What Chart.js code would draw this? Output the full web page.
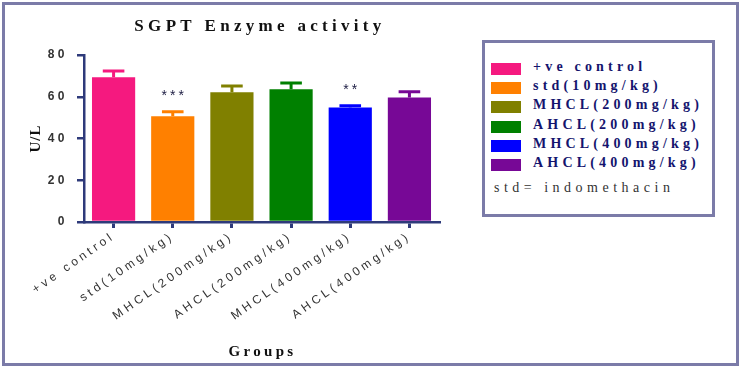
<!DOCTYPE html>
<html>
<head>
<meta charset="utf-8">
<script src="https://cdn.jsdelivr.net/npm/chart.js@4.4.1/dist/chart.umd.min.js"></script>
<style>
  body { margin: 0; background: #fff; }
  #wrap { position: relative; width: 744px; height: 368px; overflow: hidden; }
  #frame { position: absolute; left: 2px; top: 2px; width: 731px; height: 358px; border: 3px solid #7b7ba8; }
  #chart { position: absolute; left: 0; top: 0; }
  #legend {
    position: absolute; left: 482px; top: 40px; width: 233px; height: 177px;
    box-sizing: border-box; border: 3px solid #7b7ba8; background: #fff;
    font-family: "Liberation Serif", "DejaVu Serif", serif;
  }
  .row { position: absolute; left: 6px; height: 14px; }
  .sw { position: absolute; left: 0; top: 1px; width: 30px; height: 12px; }
  .txt { position: absolute; left: 42px; top: -3px; white-space: nowrap; font-weight: bold;
         font-size: 14px; letter-spacing: 4.2px; color: #14146e; }
  #note { position: absolute; left: 9px; top: 137px; white-space: nowrap; font-size: 14px;
          letter-spacing: 4.5px; color: #333; }
</style>
</head>
<body>
<div id="wrap">
  <div id="frame"></div>
  <canvas id="chart" width="744" height="368"></canvas>
  <div id="legend"></div>
</div>
<script>
const title = "SGPT Enzyme activity";
const yTitle = "U/L";
const xTitle = "Groups";
const groups = ["+ve control", "std(10mg/kg)", "MHCL(200mg/kg)", "AHCL(200mg/kg)", "MHCL(400mg/kg)", "AHCL(400mg/kg)"];
const legendNames = ["+ve control", "std(10mg/kg)", "MHCL(200mg/kg)", "AHCL(200mg/kg)", "MHCL(400mg/kg)", "AHCL(400mg/kg)"];
const means = [69.3, 50.6, 62.1, 63.6, 54.8, 59.7];
const errors = [3.0, 2.2, 3.0, 3.0, 0.9, 2.7];
const stars = ["", "***", "", "", "**", ""];
const colors = ["#f5197f", "#ff8000", "#808000", "#008000", "#0000ff", "#770896"];
const yTicks = [0, 20, 40, 60, 80];
const note = "std= indomethacin";

const axisColor = "#2e3a7a";

// html legend
const legend = document.getElementById("legend");
legendNames.forEach((name, i) => {
  const row = document.createElement("div");
  row.className = "row";
  row.style.top = (19 + i * 19.2) + "px";
  row.innerHTML = `<div class="sw" style="background:${colors[i]}"></div><div class="txt">${name}</div>`;
  legend.appendChild(row);
});
const n = document.createElement("div");
n.id = "note";
n.textContent = note;
legend.appendChild(n);

function spacing(chart) {
  chart.ctx.letterSpacing = "3.5px";
}

const extras = {
  id: "extras",
  beforeInit: spacing,
  beforeLayout: spacing,
  beforeDraw: spacing,
  afterDatasetsDraw(chart) {
    const ctx = chart.ctx;
    const y = chart.scales.y;
    const meta = chart.getDatasetMeta(0);
    ctx.save();
    meta.data.forEach((bar, i) => {
      const top = y.getPixelForValue(means[i]);
      const cap = y.getPixelForValue(means[i] + errors[i]);
      const half = bar.width / 4;
      ctx.strokeStyle = colors[i];
      ctx.lineWidth = 3;
      ctx.beginPath();
      ctx.moveTo(bar.x, top);
      ctx.lineTo(bar.x, cap);
      ctx.moveTo(bar.x - half, cap);
      ctx.lineTo(bar.x + half, cap);
      ctx.stroke();
      if (stars[i]) {
        ctx.fillStyle = "#1a1a40";
        ctx.font = "14px 'Liberation Sans', Arial, sans-serif";
        ctx.letterSpacing = "3px";
        ctx.textAlign = "center";
        ctx.textBaseline = "middle";
        ctx.fillText(stars[i], bar.x + 1.5, cap - 16);
      }
    });
    ctx.restore();
  },
  afterDraw(chart) {
    const ctx = chart.ctx;
    const a = chart.chartArea;
    ctx.save();
    ctx.fillStyle = "#111";
    ctx.textAlign = "center";
    ctx.textBaseline = "middle";
    ctx.font = "bold 17px 'Liberation Serif', serif";
    ctx.letterSpacing = "4.3px";
    ctx.fillText(title, 260, 27);
    ctx.font = "bold 15px 'Liberation Serif', serif";
    ctx.letterSpacing = "3.3px";
    ctx.fillText(xTitle, (a.left + a.right) / 2 + 1, 352);
    ctx.translate(36, (a.top + a.bottom) / 2);
    ctx.rotate(-Math.PI / 2);
    ctx.letterSpacing = "1px";
    ctx.fillText(yTitle, 0, 0);
    ctx.restore();
  }
};

new Chart(document.getElementById("chart"), {
  type: "bar",
  data: {
    labels: groups,
    datasets: [{
      data: means,
      backgroundColor: colors,
      borderWidth: 0,
      barPercentage: 0.73,
      categoryPercentage: 1.0
    }]
  },
  options: {
    responsive: false,
    animation: false,
    layout: { padding: { left: 0, top: 55, right: 305, bottom: 0 } },
    plugins: { legend: { display: false }, tooltip: { enabled: false }, title: { display: false } },
    scales: {
      x: {
        grid: { offset: false, drawOnChartArea: false, drawTicks: true, tickLength: 6, color: axisColor, lineWidth: 3 },
        border: { color: axisColor, width: 2.5 },
        ticks: {
          color: "#333", autoSkip: false, minRotation: 35, maxRotation: 35, padding: 1,
          font: { family: "'Liberation Sans', Arial, sans-serif", size: 12 }
        },
        afterFit(scale) { scale.height = 146; }
      },
      y: {
        min: 0, max: 80,
        afterBuildTicks(scale) { scale.ticks = yTicks.map(v => ({ value: v })); },
        grid: { drawOnChartArea: false, drawTicks: true, tickLength: 7, color: axisColor, lineWidth: 2.5 },
        border: { color: axisColor, width: 2.5 },
        ticks: {
          color: "#333", padding: 9,
          font: { family: "'Liberation Sans', Arial, sans-serif", size: 12, weight: "bold" }
        },
        afterFit(scale) { scale.width = 84; }
      }
    }
  },
  plugins: [extras]
});
</script>
</body>
</html>
